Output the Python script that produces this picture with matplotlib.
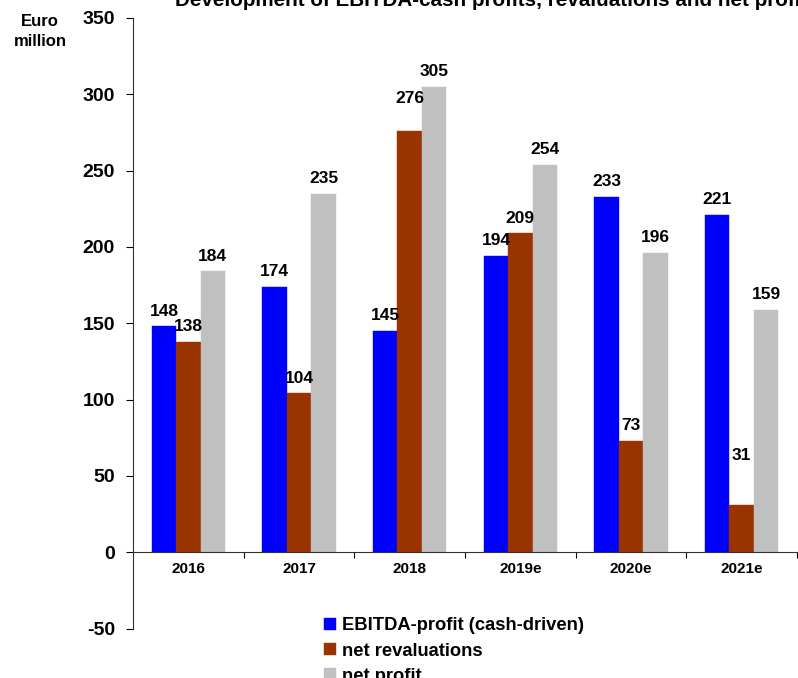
import matplotlib.pyplot as plt
import numpy as np

plt.rcParams['font.family'] = ['Liberation Sans', 'DejaVu Sans']
plt.rcParams['font.weight'] = 'bold'
plt.rcParams['axes.unicode_minus'] = False

years = ["2016", "2017", "2018", "2019e", "2020e", "2021e"]
ebitda = [148, 174, 145, 194, 233, 221]
revaluations = [138, 104, 276, 209, 73, 31]
net_profit = [184, 235, 305, 254, 196, 159]

series_names = ["EBITDA-profit (cash-driven)", "net revaluations", "net profit"]
colors = ["#0000FF", "#993300", "#C0C0C0"]

fig = plt.figure(figsize=(7.98, 6.78), dpi=100)
ax = fig.add_axes([133/798, 1 - 628.5/678, 664/798, (628.5 - 18)/678])

x = np.arange(len(years))
w = 0.221
# extra lift (pixels) for labels the original moved up
extra = {(1, 2): 17, (1, 5): 34}

for k, (vals, name, c) in enumerate(zip([ebitda, revaluations, net_profit], series_names, colors)):
    pos = x + (k - 1) * w
    ax.bar(pos, vals, width=w, color=c, label=name, edgecolor=c, linewidth=0.3)
    for i, v in enumerate(vals):
        ax.annotate(str(v), (pos[i], v), xytext=(0, 5.5 + extra.get((k, i), 0) * 0.72),
                    textcoords="offset points", ha="center", va="bottom",
                    fontsize=12.5, fontweight="bold")

ax.set_xlim(-0.5, 5.5)
ax.set_ylim(-50, 350)
ax.set_yticks(range(-50, 351, 50))
ax.tick_params(axis='y', direction='out', length=5, labelsize=14, pad=8)

ax.spines['top'].set_visible(False)
ax.spines['right'].set_visible(False)
ax.spines['bottom'].set_position(('data', 0))
ax.spines['left'].set_color('#333333')
ax.spines['bottom'].set_color('#333333')

ax.set_xticks(np.arange(0.5, 5.6, 1))
ax.set_xticklabels([])
ax.set_xticks(x, minor=True)
ax.set_xticklabels(years, minor=True)
ax.tick_params(axis='x', which='major', direction='out', length=4)
ax.tick_params(axis='x', which='minor', length=0, labelsize=11, pad=7)

fig.text(40/798, 1 - 22/678, "Euro", ha="center", va="center", fontsize=12, fontweight="bold")
fig.text(40/798, 1 - 41/678, "million", ha="center", va="center", fontsize=12, fontweight="bold")

fig.text(175/798, 1 - 6/678, "Development of EBITDA-cash profits, revaluations and net profit",
         ha="left", va="baseline", fontsize=14.85, fontweight="bold")

leg = fig.legend(loc="upper left", bbox_to_anchor=(317/798, 1 - 610/678), frameon=False,
                 fontsize=13.2, handlelength=0.65, handleheight=0.65, handletextpad=0.3,
                 labelspacing=0.45, borderaxespad=0)

fig.savefig("out.png", dpi=100)
